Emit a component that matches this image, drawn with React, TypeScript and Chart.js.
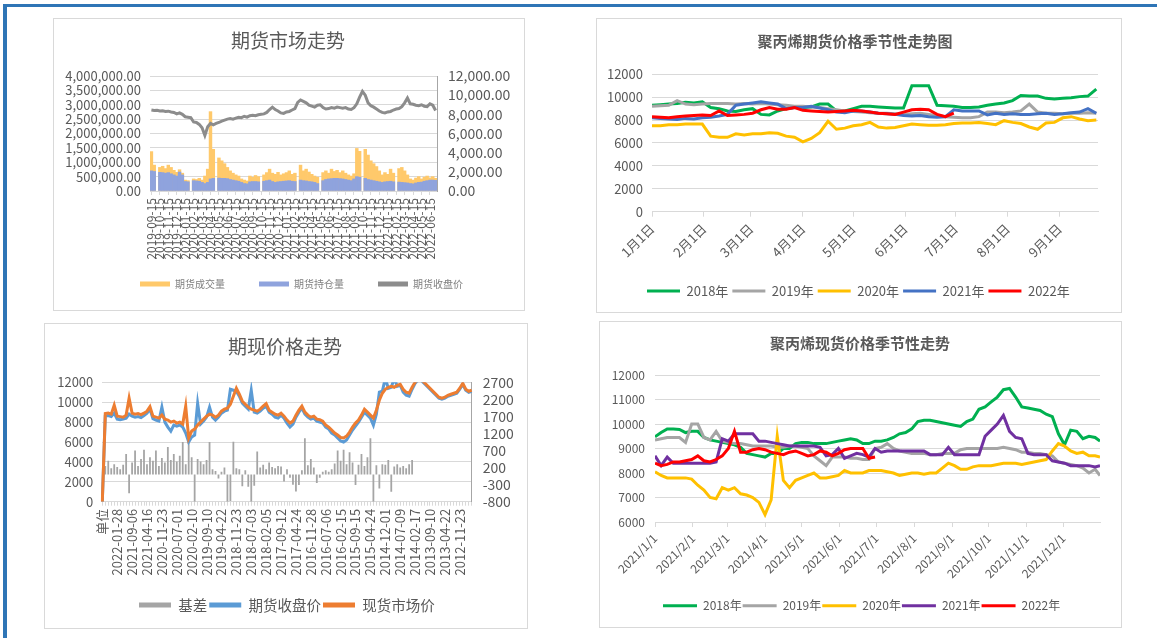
import React, { useEffect, useRef } from 'react';
import { Chart, registerables } from 'chart.js';

Chart.register(...registerables);

const FONT = '"Noto Sans CJK SC", "Noto Sans", sans-serif';
const TXT = '#595959';
const GRID = '#d9d9d9';
Chart.defaults.font.family = FONT;
Chart.defaults.color = TXT;

// ================= Chart 1: 期货市场走势 =================
const c1Months = [
  '2019-09-15', '2019-10-15', '2019-11-15', '2019-12-15',
  '2020-01-15', '2020-02-15', '2020-03-15', '2020-04-15', '2020-05-15', '2020-06-15',
  '2020-07-15', '2020-08-15', '2020-09-15', '2020-10-15', '2020-11-15', '2020-12-15',
  '2021-01-15', '2021-02-15', '2021-03-15', '2021-04-15', '2021-05-15', '2021-06-15',
  '2021-07-15', '2021-08-15', '2021-09-15', '2021-10-15', '2021-11-15', '2021-12-15',
  '2022-01-15', '2022-02-15', '2022-03-15', '2022-04-15', '2022-05-15', '2022-06-15',
];
const c1Volume = [
  1370000, 900000, null, 820000, 860000, 780000, 900000, 820000, 720000, 650000,
  740000, 620000, 380000, 360000, null, 420000, 400000, 440000, 380000, 520000,
  760000, 2760000, 1450000, null, 1150000, 1050000, 950000, 820000, 700000, 620000,
  560000, 520000, 420000, 380000, 350000, 520000, 480000, 540000, 500000, null,
  560000, 640000, 760000, 620000, 580000, 650000, 560000, 600000, 640000, 700000,
  580000, 620000, null, 900000, 700000, 760000, 660000, 580000, 520000, 480000,
  null, 640000, 700000, 620000, 760000, 680000, 720000, 640000, 700000, 620000,
  560000, 520000, 600000, 1480000, 1380000, null, 1450000, 1250000, 1050000, 950000,
  850000, 700000, 560000, 640000, 580000, 760000, 620000, null, 780000, 820000,
  700000, 560000, 420000, 380000, 450000, 500000, 420000, 480000, 520000, 460000,
  500000, 440000,
];
const c1OpenInt = [
  700000, 680000, null, 650000, 640000, 620000, 640000, 600000, 560000, 520000,
  660000, 560000, 330000, 320000, null, 360000, 350000, 340000, 300000, 260000,
  300000, 420000, 440000, null, 450000, 440000, 440000, 430000, 400000, 380000,
  360000, 340000, 300000, 260000, 250000, 320000, 330000, 330000, 320000, null,
  340000, 360000, 380000, 330000, 300000, 320000, 330000, 340000, 350000, 360000,
  340000, 330000, null, 380000, 360000, 350000, 330000, 320000, 300000, 260000,
  null, 360000, 400000, 420000, 430000, 440000, 440000, 430000, 420000, 400000,
  380000, 360000, 420000, 500000, 480000, null, 440000, 400000, 380000, 360000,
  340000, 320000, 300000, 320000, 330000, 340000, 320000, null, 310000, 300000,
  290000, 280000, 260000, 250000, 280000, 300000, 310000, 340000, 360000, 380000,
  380000, 370000,
];
const c1Close = [
  8450, 8400, 8420, 8350, 8380, 8300, 8330, 8250, 8200, 8050,
  8150, 8000, 7750, 7700, 7650, 7200, 7150, 6950, 6600, 5800,
  6700, 7050, 6900, 7050, 7150, 7300, 7400, 7500, 7550, 7500,
  7600, 7700, 7650, 7800, 7700, 7850, 7900, 7850, 7950, 8000,
  8050, 8200, 8500, 8750, 8500, 8350, 8150, 8100, 8250, 8300,
  8450, 8600, 9250, 9500, 9350, 9200, 8950, 8850, 8750, 8950,
  9000, 8700, 8550, 8600, 8700, 8650, 8750, 8700, 8650, 8700,
  8550, 8500, 8700, 9100, 9800, 10400, 10000, 9200, 8900, 8750,
  8550, 8350, 8200, 8150, 8250, 8300, 8450, 8550, 8600, 8800,
  9200, 9700, 9100, 9050, 8950, 8900, 9000, 8850, 8800, 9100,
  8950, 8400,
];

// ================= Chart 2: 聚丙烯期货价格季节性走势图 =================
const c2Days = [
  0, 5, 10, 15, 20, 25, 30, 35, 40, 45, 50, 55, 60, 65, 70, 75, 80, 85, 90, 95,
  100, 105, 110, 115, 120, 125, 130, 135, 140, 145, 150, 155, 160, 165, 170, 175,
  180, 185, 190, 195, 200, 205, 210, 215, 220, 225, 230, 235, 240, 245, 250, 255, 260, 265,
];
const c2TickDays = [0, 31, 59, 90, 120, 151, 181, 212, 243];
const c2TickLabels = ['1月1日', '2月1日', '3月1日', '4月1日', '5月1日', '6月1日', '7月1日', '8月1日', '9月1日'];
const c2Y2018 = [
  9300, 9350, 9400, 9450, 9550, 9500, 9600, 9100, 9000, 8800,
  8750, 8900, 9000, 8500, 8450, 8800, 9000, 9100, 9100, 9150,
  9400, 9400, 8800, 8800, 9000, 9200, 9200, 9150, 9100, 9050,
  9050, 11000, 11000, 11000, 9300, 9250, 9200, 9100, 9100, 9150,
  9300, 9400, 9500, 9700, 10150, 10100, 10100, 9900, 9850, 9900,
  9950, 10050, 10100, 10700,
];
const c2Y2019 = [
  9200, 9250, 9300, 9700, 9400, 9350, 9400, 9450, 9450, 9450,
  9400, 9450, 9400, 9450, 9400, 9350, 9300, 9200, 9200, 9150,
  9100, 9000, 8900, 8800, 8750, 8700, 8650, 8600, 8600, 8550,
  8500, 8550, 8600, 8500, 8400, 8300, 8250, 8200, 8200, 8300,
  8700, 8700, 8650, 8700, 8800, 9400, 8700, 8600, 8600, 8550,
  8600, 8600, 8650, 8600,
];
const c2Y2020 = [
  7500, 7500, 7600, 7600, 7650, 7650, 7650, 6600, 6500, 6500,
  6800, 6700, 6800, 6800, 6900, 6850, 6600, 6500, 6100, 6400,
  6900, 7900, 7200, 7300, 7500, 7600, 7800, 7400, 7300, 7350,
  7500, 7650, 7600, 7550, 7550, 7600, 7700, 7750, 7750, 7800,
  7700, 7600, 7950, 7800, 7700, 7400, 7200, 7750, 7800, 8200,
  8300, 8100, 7950, 8000,
];
const c2Y2021 = [
  8200, 8150, 8100, 8050, 8150, 8100, 8200, 8250, 8350, 8500,
  9300, 9400, 9500, 9600, 9500, 9400, 9000, 9100, 9100, 9200,
  9050, 8900, 8700, 8650, 8800, 8800, 8700, 8600, 8550, 8500,
  8400, 8350, 8400, 8300, 8250, 8300, 8900, 8800, 8800, 8800,
  8450, 8600, 8500, 8550, 8500, 8500, 8550, 8600, 8500, 8550,
  8650, 8700, 9000, 8600,
];
const c2Y2022 = [
  8300, 8250, 8200, 8300, 8350, 8400, 8450, 8400, 8800, 8400,
  8450, 8500, 8600, 8900, 9100, 8950, 8950, 9100, 8850, 8800,
  8750, 8700, 8750, 8800, 8850, 8800, 8700, 8600, 8550, 8500,
  8700, 8900, 8950, 8900, 8500, 8300, 8600,
];

// ================= Chart 3: 期现价格走势 =================
const c3Dates = [
  '单位', '2022-01-28', '2021-09-06', '2021-04-16', '2020-11-23', '2020-07-01', '2020-02-10',
  '2019-09-10', '2019-04-22', '2018-11-23', '2018-07-03', '2018-02-05', '2017-09-12',
  '2017-04-24', '2016-11-28', '2016-07-06', '2016-02-15', '2015-09-15', '2015-04-24',
  '2014-12-01', '2014-07-09', '2014-02-17', '2013-09-10', '2013-04-22', '2012-11-23',
];
const c3BasisTicks = [-800, -300, 200, 700, 1200, 1700, 2200, 2700];
const c3Spot = [
  0, 8850, 8900, 8800, 9700, 8600, 8550, 8500, 8700, 10400,
  8900, 8800, 8850, 8750, 8900, 9100, 9550, 8600, 8500, 8400,
  8700, 8300, 8200, 8000, 8100, 7900, 8000, 7800, 9600, 6400,
  7100, 7300, 7700, 8000, 8300, 8600, 8800, 8700, 8500, 8700,
  9100, 9300, 9400, 9800, 10600, 11400, 10800, 10100, 9800, 9500,
  9300, 9200, 9100, 9300, 9600, 9850, 9200, 9000, 8800, 8700,
  8900, 8600, 8200, 7900, 8100, 8700, 9200, 9600, 9000, 8700,
  8500, 8600, 8300, 8250, 8100, 7700, 7500, 7200, 6900, 6700,
  6450, 6400, 6600, 7000, 7500, 7900, 8200, 8700, 9300, 9000,
  8700, 8400, 9200, 10200, 10900, 11300, 11500, 11600, 11500, 11700,
  11800, 11300, 11000, 10900, 11500, 12000, 12300, 12300, 12000, 11700,
  11400, 11100, 10800, 10500, 10400, 10500, 10700, 10800, 10900, 11000,
  11400, 11900, 11300, 11100, 11200,
];
const c3Futures = [
  0, 8600, 8650, 8550, 8900, 8300, 8250, 8300, 8400, 8800,
  8600, 8500, 8550, 8450, 8650, 8900, 9300, 8350, 8200, 8100,
  9500, 8000, 7500, 7100, 7700, 7600, 7700, 7500, 6900, 6000,
  6500, 6700, 9900, 7800, 8100, 8500, 9500, 8500, 8200, 8500,
  8900, 9100, 9200, 11300, 11200, 11100, 10600, 9900, 9600, 9300,
  11200, 9000, 8900, 9100, 9400, 9600, 9000, 8800, 8500, 8400,
  8700, 8400, 7900, 7500, 7800, 8500, 9000, 9400, 8800, 8500,
  8300, 8400, 8100, 8000, 7900, 7500, 7300, 6900, 6700, 6400,
  6100, 6000, 6200, 6700, 7200, 7600, 8000, 8500, 9000, 8700,
  8400, 7700, 8800, 11000, 11100, 12400, 11400, 11500, 12400, 11600,
  11700, 11000, 10700, 10600, 11300, 11900, 12200, 12200, 11900, 11600,
  11300, 11000, 10700, 10400, 10300, 10400, 10600, 10700, 10800, 10900,
  11300, 11800, 11200, 11000, 11100,
];
const c3Basis = [
  null, 250, 400, 180, 300, 220, 150, 280, 600, -550,
  350, 700, 250, 450, 720, 300, 500, 400, 700, 250,
  480, 350, 800, 420, 600, 380, 550, 950, 300, 1050,
  500, -800, 450, 380, 300, 420, 950, 150, 100, -120,
  80, 200, -800, -780, 960, 180, 150, -350, 120, -360,
  -800, -330, 670, 200, 280, 150, 350, 220, 180, 250,
  230, -210, 150, -100, -300, -500, -310, 120, 1060, 270,
  450, 200, -250, -100, 80, 120, 80, 150, 320, 700,
  400, 720, 300, 650, 350, -310, 280, 600, 250, 500,
  1060, -800, 270, -410, 300, 280, 420, -510, 230, 300,
  200, 250, 180, 300, 420,
];

// ================= Chart 4: 聚丙烯现货价格季节性走势 =================
const c4Days = [
  0, 5, 10, 15, 20, 25, 30, 35, 40, 45, 50, 55, 60, 65, 70, 75, 80, 85, 90, 95,
  100, 105, 110, 115, 120, 125, 130, 135, 140, 145, 150, 155, 160, 165, 170, 175,
  180, 185, 190, 195, 200, 205, 210, 215, 220, 225, 230, 235, 240, 245, 250, 255,
  260, 265, 270, 275, 280, 285, 290, 295, 300, 305, 310, 315, 320, 325, 330, 335,
  340, 345, 350, 355, 360, 364,
];
const c4TickDays = [0, 31, 59, 90, 120, 151, 181, 212, 243, 273, 304, 334];
const c4TickLabels = [
  '2021/1/1', '2021/2/1', '2021/3/1', '2021/4/1', '2021/5/1', '2021/6/1',
  '2021/7/1', '2021/8/1', '2021/9/1', '2021/10/1', '2021/11/1', '2021/12/1',
];
const c4Y2018 = [
  9480, 9650, 9800, 9800, 9780, 9650, 9700, 9700, 9450, 9350,
  9300, 9250, 9200, 9150, 9050, 8800, 8750, 8700, 8650, 8800,
  8800, 9000, 9000, 9200, 9250, 9250, 9200, 9200, 9200, 9250,
  9300, 9350, 9400, 9350, 9200, 9200, 9300, 9300, 9350, 9450,
  9600, 9650, 9800, 10100, 10150, 10150, 10100, 10050, 10000, 9950,
  9900, 10100, 10200, 10600, 10700, 10900, 11100, 11400, 11450, 11100,
  10700, 10650, 10600, 10550, 10400, 10300, 9600, 9150, 9750, 9700,
  9400, 9500, 9450, 9300,
];
const c4Y2019 = [
  9350, 9400, 9450, 9450, 9450, 9250, 10000, 10000, 9450, 9350,
  9700, 9300, 9250, 9200, 9200, 9150, 9100, 9100, 9100, 9100,
  9050, 9050, 9100, 9100, 9050, 9000, 8700, 8500, 8300, 8650,
  8650, 8650, 8600, 8600, 8550, 8550, 9000, 9050, 9200, 9000,
  8900, 8850, 8800, 8800, 8800, 8750, 8750, 8800, 8800, 8800,
  8950, 9000, 9000, 9000, 9000, 9000, 9000, 9050, 9000, 8950,
  8850, 8850, 8800, 8800, 8750, 8700, 8450, 8400, 8350, 8300,
  8200, 8000, 8150, 7900,
];
const c4Y2020 = [
  8050, 7900, 7800, 7800, 7800, 7800, 7750, 7500, 7300, 7000,
  6950, 7400, 7300, 7400, 7150, 7100, 7000, 6800, 6300, 6900,
  9500, 7700, 7400, 7700, 7800, 7900, 8000, 7800, 7800, 7850,
  7900, 8100, 8000, 8000, 8000, 8100, 8100, 8100, 8050, 8000,
  7900, 7950, 8000, 8000, 7950, 8000, 8000, 8200, 8400, 8300,
  8150, 8150, 8250, 8300, 8300, 8300, 8350, 8400, 8400, 8400,
  8350, 8400, 8450, 8500, 8550, 8900, 9200, 9100, 8900, 8800,
  8850, 8700, 8700, 8650,
];
const c4Y2021 = [
  8700, 8300, 8650, 8400, 8400, 8400, 8400, 8400, 8400, 8400,
  8450, 9400, 9300, 9600, 9600, 9600, 9600, 9300, 9300, 9250,
  9200, 9150, 9100, 9100, 9100, 9100, 9100, 9050, 8700, 8750,
  9000, 8600, 8700, 8800, 8750, 8650, 9000, 8850, 8900, 8900,
  8900, 8900, 8900, 8900, 8900, 8750, 8750, 8750, 9050, 8750,
  8750, 8750, 8750, 8750, 9500, 9750, 10000, 10350, 9700, 9450,
  9400, 8800, 8750, 8750, 8750, 8500, 8450, 8400, 8300, 8300,
  8300, 8300, 8250, 8300,
];
const c4Y2022 = [
  8400, 8300, 8350, 8450, 8450, 8500, 8550, 8700, 8500, 8450,
  8550, 8700, 9000, 9700, 8850, 8850, 8950, 9000, 8950, 8850,
  8800, 8750, 8850, 8900, 8800, 8700, 8750, 8900, 8850, 8700,
  8800, 8950, 9000, 9000, 9000, 8600, 8650,
];

// ================= helpers =================
type FrameSpec = {
  W: number; H: number; l: number; r: number; t: number; b: number;
  titleSize: number; titleCy: number;
  legendSize: number; legendBoxH: number; legendPad: number; legendCy: number;
};

function frame(f: FrameSpec) {
  const lh = f.titleSize * 1.2;
  const tTop = f.titleCy - lh / 2;
  const tBot = f.t - tTop - lh;
  const itemH = Math.max(f.legendSize, f.legendBoxH);
  const padB = f.H - f.legendCy - 10 - itemH / 2;
  const legendH = itemH + f.legendPad + 10;
  const xH = f.H - padB - legendH - f.b;
  return { tTop, tBot, padB, xH, yW: f.l, rightW: f.W - f.r };
}

// positions legend / title horizontally and lets tick labels overflow their axis box
const placer = {
  id: 'placer',
  afterLayout(chart: any, _args: any, opts: any) {
    const lg = chart.legend;
    if (lg && opts && opts.legendX != null && lg.lineWidths) {
      const pad = lg.options.labels.padding;
      const start = (lg.left + pad + lg.right - lg.lineWidths[0]) / 2;
      const dx = opts.legendX - start;
      lg.left += dx;
      lg.right += dx;
    }
    const tb = chart.titleBlock;
    if (tb && opts && opts.titleX != null) {
      const dx = opts.titleX - (tb.left + tb.right) / 2;
      tb.left += dx;
      tb.right += dx;
    }
    Object.values(chart.scales).forEach((s: any) => {
      s._computeLabelArea = () => undefined;
    });
  },
};

function legendLabels(size: number, boxW: number, boxH: number, pad: number, color: string) {
  return {
    font: { size, family: FONT },
    color,
    boxWidth: boxW,
    boxHeight: boxH,
    padding: pad,
    generateLabels: (chart: any) => {
      const items = (Chart.defaults as any).plugins.legend.labels.generateLabels(chart);
      items.forEach((it: any) => { it.lineWidth = 0; });
      return items.sort((a: any, b: any) => a.datasetIndex - b.datasetIndex);
    },
  };
}

const fmt2 = (v: any) =>
  Number(v).toLocaleString('en-US', { minimumFractionDigits: 2, maximumFractionDigits: 2 });
const plain = (v: any) => String(v);

const xy = (days: number[], vals: number[]) => vals.map((v, i) => ({ x: days[i], y: v }));

// ================= configs =================
function config1() {
  const W = 470, H = 291;
  const fr = frame({ W, H, l: 96, r: 383, t: 57, b: 172, titleSize: 19, titleCy: 22,
    legendSize: 10, legendBoxH: 5, legendPad: 34, legendCy: 265 });
  const labels = c1Volume.map((_, i) => (i % 3 === 0 ? c1Months[i / 3] : ''));
  return {
    type: 'bar',
    data: {
      labels,
      datasets: [
        { type: 'bar', label: '期货成交量', data: c1Volume, backgroundColor: '#FFC96B', yAxisID: 'y',
          grouped: false, barPercentage: 1, categoryPercentage: 1, order: 3 },
        { type: 'bar', label: '期货持仓量', data: c1OpenInt, backgroundColor: '#8FA3DD', yAxisID: 'y',
          grouped: false, barPercentage: 1, categoryPercentage: 1, order: 2 },
        { type: 'line', label: '期货收盘价', data: c1Close, borderColor: '#8C8C8C', backgroundColor: '#8C8C8C',
          borderWidth: 3, pointRadius: 0, tension: 0, yAxisID: 'y1', order: 1 },
      ],
    },
    options: {
      responsive: false, animation: false, devicePixelRatio: 1,
      layout: { padding: { left: 0, right: 0, top: 0, bottom: fr.padB } },
      plugins: {
        title: { display: true, text: '期货市场走势', color: TXT,
          font: { size: 19, weight: 'normal', lineHeight: 1.2 }, padding: { top: fr.tTop, bottom: fr.tBot } },
        legend: { position: 'bottom', labels: legendLabels(10, 30, 5, 34, '#7f7f7f') },
        tooltip: { enabled: false },
        placer: { legendX: 86, titleX: 234 },
      },
      scales: {
        x: {
          offset: true,
          grid: { drawOnChartArea: false, tickLength: 4, offset: false,
            color: (ctx: any) => (ctx.index % 3 === 0 ? GRID : 'rgba(0,0,0,0)') },
          border: { display: true, color: GRID },
          ticks: { autoSkip: false, minRotation: 90, maxRotation: 90, font: { size: 12 }, color: TXT, padding: 3 },
          afterFit: (s: any) => { s.height = fr.xH; },
        },
        y: {
          position: 'left', min: 0, max: 4000000,
          ticks: { stepSize: 500000, autoSkip: false, callback: fmt2, font: { size: 13 }, color: TXT, padding: 9 },
          grid: { color: GRID, drawTicks: false },
          border: { display: false },
          afterFit: (s: any) => { s.width = fr.yW; },
        },
        y1: {
          position: 'right', min: 0, max: 12000,
          ticks: { stepSize: 2000, autoSkip: false, callback: fmt2, font: { size: 14 }, color: TXT, padding: 11 },
          grid: { drawOnChartArea: false, drawTicks: false },
          border: { display: true, color: '#a6a6a6' },
          afterFit: (s: any) => { s.width = fr.rightW; },
        },
      },
    },
    plugins: [placer],
  };
}

function seasonalConfig(opts: {
  W: number; H: number; l: number; r: number; t: number; b: number;
  title: string; titleCy: number; titleX: number;
  legendSize: number; legendBoxW: number; legendPad: number; legendCy: number; legendX: number;
  days: number[]; series: { label: string; color: string; data: number[] }[];
  xMax: number; tickDays: number[]; tickLabels: string[]; xFont: number;
  yMin: number; yMax: number; yStep: number; yFont: number; yPad: number;
}) {
  const fr = frame({ W: opts.W, H: opts.H, l: opts.l, r: opts.r, t: opts.t, b: opts.b,
    titleSize: 15, titleCy: opts.titleCy, legendSize: opts.legendSize, legendBoxH: 3,
    legendPad: opts.legendPad, legendCy: opts.legendCy });
  const n = opts.series.length;
  return {
    type: 'line',
    data: {
      datasets: opts.series.map((s, i) => ({
        label: s.label, data: xy(opts.days, s.data), borderColor: s.color, backgroundColor: s.color,
        borderWidth: 3, pointRadius: 0, tension: 0, order: n - i,
      })),
    },
    options: {
      responsive: false, animation: false, devicePixelRatio: 1,
      layout: { padding: { left: 0, right: fr.rightW, top: 0, bottom: fr.padB } },
      plugins: {
        title: { display: true, text: opts.title, color: TXT,
          font: { size: 15, weight: 'bold', lineHeight: 1.2 }, padding: { top: fr.tTop, bottom: fr.tBot } },
        legend: { position: 'bottom', labels: legendLabels(opts.legendSize, opts.legendBoxW, 3, opts.legendPad, TXT) },
        tooltip: { enabled: false },
        placer: { legendX: opts.legendX, titleX: opts.titleX },
      },
      scales: {
        x: {
          type: 'linear', min: 0, max: opts.xMax,
          afterBuildTicks: (s: any) => { s.ticks = opts.tickDays.map((v) => ({ value: v })); },
          ticks: { autoSkip: false, minRotation: 45, maxRotation: 45, font: { size: opts.xFont }, color: TXT,
            padding: 4, callback: (_v: any, i: number) => opts.tickLabels[i] },
          grid: { drawOnChartArea: false, tickLength: 5, color: GRID },
          border: { display: true, color: GRID },
          afterFit: (s: any) => { s.height = fr.xH; },
        },
        y: {
          min: opts.yMin, max: opts.yMax,
          ticks: { stepSize: opts.yStep, autoSkip: false, callback: plain, font: { size: opts.yFont },
            color: TXT, padding: opts.yPad },
          grid: { color: GRID, drawTicks: false },
          border: { display: false },
          afterFit: (s: any) => { s.width = fr.yW; },
        },
      },
    },
    plugins: [placer],
  };
}

function config2() {
  return seasonalConfig({
    W: 524, H: 293, l: 55, r: 501, t: 55.3, b: 192.7,
    title: '聚丙烯期货价格季节性走势图', titleCy: 22, titleX: 258,
    legendSize: 13, legendBoxW: 33, legendPad: 4, legendCy: 272, legendX: 50,
    days: c2Days,
    series: [
      { label: '2018年', color: '#00B050', data: c2Y2018 },
      { label: '2019年', color: '#A5A5A5', data: c2Y2019 },
      { label: '2020年', color: '#FFC000', data: c2Y2020 },
      { label: '2021年', color: '#4472C4', data: c2Y2021 },
      { label: '2022年', color: '#FF0000', data: c2Y2022 },
    ],
    xMax: 266, tickDays: c2TickDays, tickLabels: c2TickLabels, xFont: 13,
    yMin: 0, yMax: 12000, yStep: 2000, yFont: 13, yPad: 9,
  });
}

function config4() {
  return seasonalConfig({
    W: 521, H: 305, l: 55, r: 500, t: 53, b: 200,
    title: '聚丙烯现货价格季节性走势', titleCy: 21, titleX: 260,
    legendSize: 12, legendBoxW: 34, legendPad: 1, legendCy: 283.7, legendX: 63,
    days: c4Days,
    series: [
      { label: '2018年', color: '#00B050', data: c4Y2018 },
      { label: '2019年', color: '#A5A5A5', data: c4Y2019 },
      { label: '2020年', color: '#FFC000', data: c4Y2020 },
      { label: '2021年', color: '#7030A0', data: c4Y2021 },
      { label: '2022年', color: '#FF0000', data: c4Y2022 },
    ],
    xMax: 364, tickDays: c4TickDays, tickLabels: c4TickLabels, xFont: 12,
    yMin: 6000, yMax: 12000, yStep: 1000, yFont: 12, yPad: 10,
  });
}

function config3() {
  const W = 482, H = 304;
  const fr = frame({ W, H, l: 57.3, r: 426.7, t: 58.3, b: 177.7, titleSize: 19, titleCy: 22.7,
    legendSize: 14.5, legendBoxH: 5, legendPad: 2, legendCy: 281 });
  const labels = c3Spot.map((_, i) => (i % 5 === 0 ? c3Dates[i / 5] : ''));
  return {
    type: 'bar',
    data: {
      labels,
      datasets: [
        { type: 'bar', label: '基差', data: c3Basis, backgroundColor: '#A5A5A5', yAxisID: 'y1',
          barPercentage: 0.6, categoryPercentage: 1, order: 3 },
        { type: 'line', label: '期货收盘价', data: c3Futures, borderColor: '#5B9BD5', backgroundColor: '#5B9BD5',
          borderWidth: 3, pointRadius: 0, tension: 0, yAxisID: 'y', order: 2 },
        { type: 'line', label: '现货市场价', data: c3Spot, borderColor: '#ED7D31', backgroundColor: '#ED7D31',
          borderWidth: 3, pointRadius: 0, tension: 0, yAxisID: 'y', order: 1 },
      ],
    },
    options: {
      responsive: false, animation: false, devicePixelRatio: 1,
      layout: { padding: { left: 0, right: 0, top: 0, bottom: fr.padB } },
      plugins: {
        title: { display: true, text: '期现价格走势', color: TXT,
          font: { size: 19, weight: 'normal', lineHeight: 1.2 }, padding: { top: fr.tTop, bottom: fr.tBot } },
        legend: { position: 'bottom', labels: legendLabels(14.5, 32, 5, 2, TXT) },
        tooltip: { enabled: false },
        placer: { legendX: 94, titleX: 240 },
      },
      scales: {
        x: {
          offset: false,
          grid: { drawOnChartArea: false, tickLength: 4, color: GRID, offset: false },
          border: { display: true, color: GRID },
          ticks: { autoSkip: false, minRotation: 90, maxRotation: 90, font: { size: 13 }, color: TXT, padding: 3 },
          afterFit: (s: any) => { s.height = fr.xH; },
        },
        y: {
          position: 'left', min: 0, max: 12000,
          ticks: { stepSize: 2000, autoSkip: false, callback: plain, font: { size: 13 }, color: TXT, padding: 9 },
          grid: { color: GRID, drawTicks: false },
          border: { display: false },
          afterFit: (s: any) => { s.width = fr.yW; },
        },
        y1: {
          position: 'right', min: -800, max: 2700,
          afterBuildTicks: (s: any) => { s.ticks = c3BasisTicks.map((v) => ({ value: v })); },
          ticks: { autoSkip: false, callback: plain, font: { size: 14 }, color: TXT, padding: 11 },
          grid: { drawOnChartArea: false, drawTicks: false },
          border: { display: true, color: '#a6a6a6' },
          afterFit: (s: any) => { s.width = fr.rightW; },
        },
      },
    },
    plugins: [placer],
  };
}

// ================= components =================
type Box = { x: number; y: number; w: number; h: number };

function ChartPanel({ box, make }: { box: Box; make: () => any }) {
  const ref = useRef<HTMLCanvasElement>(null);
  useEffect(() => {
    const chart = new Chart(ref.current as HTMLCanvasElement, make());
    return () => chart.destroy();
  }, []);
  const cw = box.w - 2;
  const ch = box.h - 2;
  return (
    <div style={{ position: 'absolute', left: box.x, top: box.y, width: box.w, height: box.h,
      boxSizing: 'border-box', border: '1px solid #d9d9d9', background: '#fff' }}>
      <canvas ref={ref} width={cw} height={ch} style={{ display: 'block', width: cw, height: ch }} />
    </div>
  );
}

export default function App() {
  return (
    <div style={{ position: 'absolute', left: 0, top: 0, width: 1157, height: 638, background: '#fff', overflow: 'hidden' }}>
      <div style={{ position: 'absolute', left: 3, top: 4, width: 1154, height: 3, background: '#2E75B6' }} />
      <div style={{ position: 'absolute', left: 3, top: 4, width: 4, height: 634, background: '#2E75B6' }} />
      <ChartPanel box={{ x: 53, y: 18, w: 472, h: 293 }} make={config1} />
      <ChartPanel box={{ x: 596, y: 18, w: 526, h: 295 }} make={config2} />
      <ChartPanel box={{ x: 44, y: 323, w: 484, h: 306 }} make={config3} />
      <ChartPanel box={{ x: 599, y: 321, w: 523, h: 307 }} make={config4} />
    </div>
  );
}
